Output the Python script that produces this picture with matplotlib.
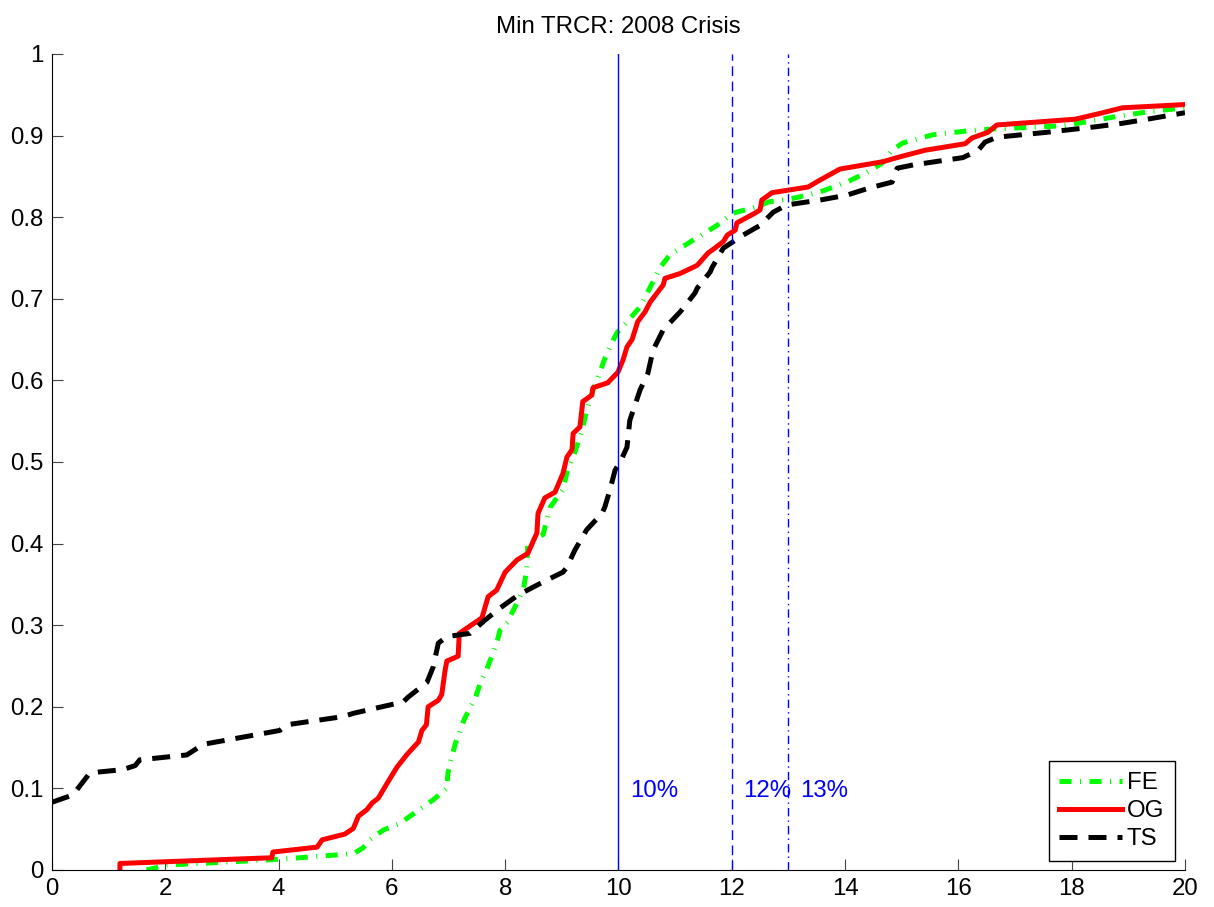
import matplotlib.pyplot as plt
import numpy as np

plt.rcParams['font.family'] = ['Liberation Sans', 'DejaVu Sans']

# empirical distributions of min TRCR (%), one per model
og_x = [1.20, 1.20, 3.88, 3.90, 4.68, 4.77, 5.17, 5.32, 5.41, 5.56, 5.65, 5.76, 5.94, 6.09, 6.26, 6.47,
        6.53, 6.61, 6.64, 6.82, 6.88, 6.94, 6.97, 7.17, 7.19, 7.59, 7.70, 7.85, 8.00, 8.21, 8.40, 8.56,
        8.58, 8.70, 8.88, 9.02, 9.09, 9.18, 9.20, 9.32, 9.37, 9.53, 9.55, 9.81, 9.99, 10.08, 10.15, 10.24,
        10.34, 10.47, 10.56, 10.79, 10.82, 11.09, 11.39, 11.58, 11.70, 11.85, 11.92, 12.06, 12.09, 12.41,
        12.50, 12.53, 12.71, 13.35, 13.52, 13.91, 14.67, 14.97, 15.41, 16.12, 16.24, 16.52, 16.68, 18.06,
        18.55, 18.89, 20.00]
og_y = [0.000, 0.008, 0.015, 0.022, 0.028, 0.037, 0.044, 0.051, 0.066, 0.074, 0.082, 0.088, 0.109, 0.126,
        0.141, 0.157, 0.171, 0.178, 0.200, 0.208, 0.215, 0.245, 0.256, 0.262, 0.290, 0.309, 0.335, 0.343,
        0.365, 0.380, 0.388, 0.413, 0.437, 0.456, 0.463, 0.486, 0.506, 0.515, 0.535, 0.543, 0.574, 0.582,
        0.591, 0.597, 0.610, 0.625, 0.641, 0.650, 0.672, 0.684, 0.696, 0.717, 0.725, 0.731, 0.741, 0.756,
        0.762, 0.770, 0.778, 0.784, 0.793, 0.805, 0.809, 0.821, 0.830, 0.837, 0.844, 0.859, 0.868, 0.874,
        0.882, 0.890, 0.897, 0.904, 0.913, 0.920, 0.928, 0.934, 0.938]

fe_x = [1.67, 2.03, 3.99, 5.32, 5.49, 5.61, 5.85, 6.14, 6.73, 6.97, 6.99, 7.03, 7.12, 7.28, 7.48, 7.56,
        7.67, 7.85, 7.91, 8.05, 8.12, 8.32, 8.38, 8.40, 8.56, 8.67, 8.79, 8.85, 9.02, 9.09, 9.20, 9.36,
        9.44, 9.55, 9.64, 9.76, 9.85, 9.97, 10.08, 10.38, 10.61, 10.73, 10.91, 11.32, 11.74, 12.02, 12.41,
        12.67, 13.08, 13.56, 14.03, 14.39, 14.65, 14.83, 15.02, 15.55, 16.20, 16.61, 17.85, 18.27, 18.76,
        19.33, 20.00]
fe_y = [0.000, 0.006, 0.013, 0.020, 0.027, 0.037, 0.049, 0.057, 0.086, 0.100, 0.119, 0.131, 0.155, 0.185,
        0.212, 0.229, 0.245, 0.278, 0.294, 0.304, 0.315, 0.343, 0.368, 0.401, 0.407, 0.411, 0.444, 0.450,
        0.466, 0.487, 0.506, 0.539, 0.564, 0.588, 0.604, 0.627, 0.641, 0.658, 0.666, 0.690, 0.721, 0.738,
        0.754, 0.772, 0.790, 0.805, 0.812, 0.819, 0.823, 0.831, 0.843, 0.855, 0.866, 0.882, 0.891, 0.901,
        0.906, 0.908, 0.912, 0.917, 0.923, 0.929, 0.934]

ts_x = [0.00, 0.37, 0.67, 1.25, 1.47, 1.55, 2.38, 2.67, 4.02, 4.15, 5.14, 5.32, 6.20, 6.29, 6.62, 6.73,
        6.82, 6.97, 7.38, 7.64, 7.91, 8.23, 8.67, 9.02, 9.09, 9.23, 9.44, 9.71, 9.76, 9.85, 9.94, 10.03,
        10.15, 10.20, 10.38, 10.52, 10.61, 10.79, 11.09, 11.35, 11.39, 11.62, 11.65, 11.85, 12.20, 12.50,
        12.73, 12.97, 13.56, 14.03, 14.44, 14.83, 14.92, 15.20, 16.08, 16.35, 16.47, 16.68, 17.56, 18.45,
        18.89, 19.33, 20.00]
ts_y = [0.083, 0.092, 0.119, 0.123, 0.128, 0.135, 0.141, 0.154, 0.171, 0.178, 0.188, 0.192, 0.206, 0.212,
        0.230, 0.249, 0.278, 0.286, 0.290, 0.306, 0.321, 0.337, 0.353, 0.365, 0.371, 0.392, 0.417, 0.437,
        0.445, 0.466, 0.490, 0.500, 0.518, 0.551, 0.588, 0.609, 0.637, 0.662, 0.684, 0.707, 0.713, 0.733,
        0.738, 0.762, 0.778, 0.790, 0.806, 0.815, 0.821, 0.827, 0.836, 0.843, 0.860, 0.864, 0.873, 0.882,
        0.892, 0.898, 0.904, 0.911, 0.915, 0.920, 0.928]

# capital ratio thresholds
thresholds = [10, 12, 13]
threshold_labels = ['10%', '12%', '13%']
threshold_styles = ['-', (0, (7, 4)), (0, (6, 3, 1, 3))]

fig = plt.figure(figsize=(12.14, 9.07), dpi=100)
ax = fig.add_axes([0.0428, 0.0408, 0.9333, 0.8997])

fe_line, = ax.plot(fe_x, fe_y, color=(0, 1, 0), lw=3.6, dashes=(2.4, 1.7, 0.2, 1.7), label='FE')
og_line, = ax.plot(og_x, og_y, color='red', lw=3.6, label='OG')
ts_line, = ax.plot(ts_x, ts_y, color='black', lw=3.6, dashes=(3.6, 2.2), label='TS')

for t, lab, ls in zip(thresholds, threshold_labels, threshold_styles):
    ax.axvline(t, color='blue', lw=1.0, linestyle=ls)
    ax.text(t + 0.2, 0.097, lab, color='blue', fontsize=17.3, va='center', ha='left')

ax.set_xlim(0, 20)
ax.set_ylim(0, 1)
ax.set_xticks(np.arange(0, 21, 2))
ax.set_yticks(np.arange(0, 1.01, 0.1))
ax.set_yticklabels(['0', '0.1', '0.2', '0.3', '0.4', '0.5', '0.6', '0.7', '0.8', '0.9', '1'])
ax.tick_params(direction='in', length=8, width=0.8, color='#444444', labelsize=17.3, pad=6)
ax.spines['top'].set_visible(False)
ax.spines['right'].set_visible(False)
ax.set_title('Min TRCR: 2008 Crisis', fontsize=17.3, pad=15)

leg = ax.legend(handles=[fe_line, og_line, ts_line], loc='lower right', bbox_to_anchor=(0.991, 0.011),
                borderaxespad=0, fontsize=17.3, handlelength=2.6, handletextpad=0.2, labelspacing=0.25,
                borderpad=0.45, fancybox=False, framealpha=1, edgecolor='black')
leg.get_frame().set_linewidth(1.0)

fig.savefig('out.png', dpi=100)
